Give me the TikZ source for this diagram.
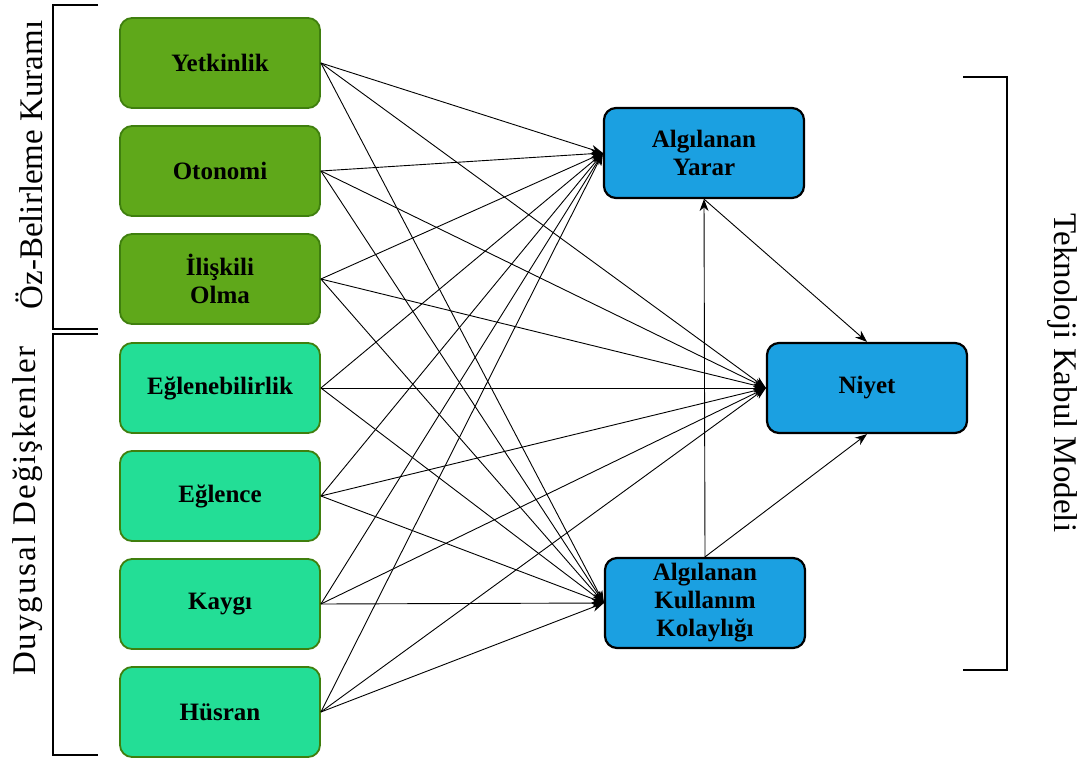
\documentclass[tikz,border=0pt]{standalone}
\usepackage{fontspec}
\setmainfont{LiberationSerif}[Extension=.ttf, UprightFont=*-Regular, BoldFont=*-Bold, ItalicFont=*-Italic, BoldItalicFont=*-BoldItalic]
\usetikzlibrary{arrows.meta}
\definecolor{sdtgreen}{HTML}{5FA81A}
\definecolor{affgreen}{HTML}{23DE96}
\definecolor{edgegreen}{HTML}{3F7F0E}
\definecolor{tamblue}{HTML}{1BA0E1}
\begin{document}
\begin{tikzpicture}[x=1pt,y=-1pt,
  box/.style={rounded corners=12pt, minimum width=200pt, minimum height=90pt,
    align=center, inner sep=0pt, font=\fontsize{25}{28}\selectfont\bfseries},
  sdt/.style={box, fill=sdtgreen, draw=edgegreen, line width=1.8pt},
  aff/.style={box, fill=affgreen, draw=edgegreen, line width=1.8pt},
  tam/.style={box, fill=tamblue, draw=black, line width=2.2pt},
  link/.style={-{Stealth[length=12pt,width=9pt]}, line width=0.9pt},
  bracket/.style={line width=2.6pt},
  side/.style={font=\fontsize{33}{33}\selectfont, inner sep=0pt}]
\useasboundingbox (0,0) rectangle (1081,762);

% Self-determination theory constructs
\node[sdt] (yet) at (220,63)  {Yetkinlik};
\node[sdt] (oto) at (220,171) {Otonomi};
\node[sdt] (ili) at (220,279) {İlişkili\\Olma};
% Affective variables
\node[aff] (egb) at (220,388) {Eğlenebilirlik};
\node[aff] (egl) at (220,496) {Eğlence};
\node[aff] (kay) at (220,604) {Kaygı};
\node[aff] (hus) at (220,712) {Hüsran};
% Technology acceptance model
\node[tam] (yar) at (704,153) {Algılanan\\Yarar};
\node[tam] (kol) at (705,603) {Algılanan\\Kullanım\\Kolaylığı};
\node[tam] (niy) at (867,388) {Niyet};

% Group brackets
\draw[bracket] (98,5) -- (53,5) -- (53,329) -- (98,329);
\draw[bracket] (98,334) -- (53,334) -- (53,755) -- (98,755);
\draw[bracket] (963,77) -- (1007,77) -- (1007,670) -- (963,670);

\node[side, rotate=90]  (lsdt) at (29,165)   {Öz-Belirleme Kuramı};
\node[side, rotate=90]  (laff) at (28,511)   {\addfontfeature{LetterSpace=6}Duygusal Değişkenler};
\node[side, rotate=-90] (ltam) at (1062,373) {Teknoloji Kabul Modeli};

% Every antecedent feeds the three TAM constructs
\foreach \src in {yet,oto,ili,egb,egl,kay,hus}{
  \draw[link] (\src.east) -- (yar.west);
  \draw[link] (\src.east) -- (niy.west);
  \draw[link] (\src.east) -- (kol.west);
}
\draw[link] (kol.north) -- (yar.south);
\draw[link] (yar.south) -- (niy.north);
\draw[link] (kol.north) -- (niy.south);
\end{tikzpicture}
\end{document}
